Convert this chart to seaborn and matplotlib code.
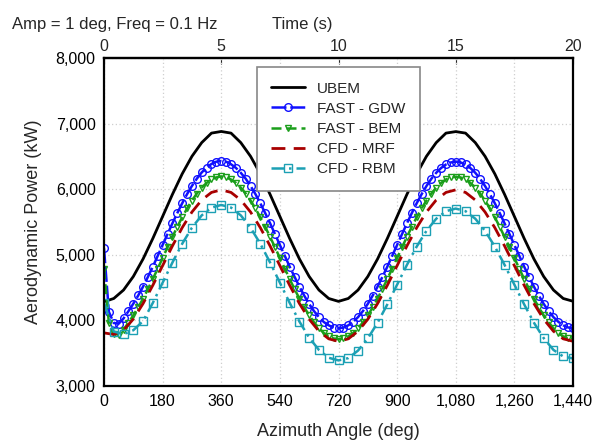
import numpy as np
import pandas as pd
import matplotlib
matplotlib.use("Agg")
import matplotlib.pyplot as plt
from matplotlib.ticker import FuncFormatter
import seaborn as sns

# ---------------- data ----------------
azimuth_15 = np.arange(0, 1441, 15)   # degrees, 97 samples
azimuth_30 = np.arange(0, 1441, 30)   # degrees, 49 samples

ubem = [4285, 4334, 4463, 4669, 4937, 5250, 5585, 5920, 6233, 6501, 6710, 6855, 6880,
        6855, 6710, 6501, 6233, 5920, 5585, 5250, 4937, 4669, 4463, 4334, 4290,
        4334, 4463, 4669, 4937, 5250, 5585, 5920, 6233, 6501, 6710, 6855, 6878,
        6855, 6710, 6501, 6233, 5920, 5585, 5250, 4937, 4669, 4463, 4334, 4292]

fast_gdw = [5100, 4130, 3960, 3950, 4030, 4140, 4255, 4380, 4515, 4665, 4820, 4985, 5150,
            5315, 5480, 5635, 5785, 5925, 6050, 6160, 6255, 6330, 6385, 6420, 6430,
            6420, 6380, 6325, 6250, 6160, 6050, 5925, 5785, 5635, 5480, 5315, 5150,
            4985, 4820, 4665, 4515, 4375, 4250, 4140, 4050, 3975, 3925, 3890, 3880,
            3890, 3925, 3978, 4050, 4142, 4252, 4378, 4515, 4665, 4820, 4985, 5150,
            5315, 5478, 5635, 5785, 5922, 6048, 6158, 6250, 6323, 6377, 6408, 6420,
            6408, 6377, 6322, 6250, 6157, 6048, 5922, 5785, 5635, 5478, 5315, 5150,
            4985, 4820, 4665, 4515, 4378, 4252, 4142, 4050, 3978, 3925, 3892, 3882]

fast_bem = [4780, 3960, 3800, 3780, 3860, 3965, 4077, 4198, 4333, 4478, 4632, 4790, 4952,
            5114, 5272, 5426, 5571, 5706, 5827, 5934, 6024, 6096, 6148, 6180, 6195,
            6179, 6148, 6096, 6024, 5934, 5827, 5706, 5571, 5426, 5272, 5114, 4952,
            4790, 4632, 4478, 4333, 4198, 4077, 3970, 3880, 3808, 3756, 3725, 3714,
            3725, 3756, 3808, 3880, 3970, 4077, 4198, 4333, 4478, 4632, 4790, 4952,
            5114, 5272, 5426, 5571, 5706, 5827, 5934, 6024, 6096, 6148, 6179, 6190,
            6179, 6148, 6096, 6024, 5934, 5827, 5706, 5571, 5426, 5272, 5114, 4952,
            4790, 4632, 4478, 4333, 4198, 4077, 3970, 3880, 3808, 3756, 3725, 3716]

cfd_mrf = [3810, 3785, 3850, 4020, 4257, 4536, 4835, 5134, 5413, 5652, 5835, 5951, 5990,
           5951, 5835, 5652, 5413, 5134, 4835, 4536, 4257, 4018, 3835, 3719, 3680,
           3719, 3835, 4018, 4257, 4536, 4835, 5134, 5413, 5652, 5835, 5951, 5990,
           5951, 5835, 5652, 5413, 5134, 4835, 4536, 4257, 4018, 3835, 3719, 3682]

cfd_rbm = [4270, 3830, 3790, 3850, 3990, 4268, 4575, 4882, 5168, 5413, 5601, 5720, 5760,
           5720, 5601, 5413, 5168, 4882, 4575, 4268, 3982, 3737, 3549, 3430, 3390,
           3425, 3540, 3725, 3965, 4245, 4545, 4845, 5125, 5365, 5550, 5665, 5705,
           5665, 5550, 5365, 5125, 4845, 4545, 4245, 3965, 3730, 3550, 3450, 3420]

x_ticks = [0, 180, 360, 540, 720, 900, 1080, 1260, 1440]
y_ticks = [3000, 4000, 5000, 6000, 7000, 8000]
time_ticks = [0, 5, 10, 15, 20]

# ---------------- styling ----------------
sns.set_style("white")
plt.rcParams["font.family"] = ["Liberation Sans", "DejaVu Sans"]

fig = plt.figure(figsize=(5.92, 4.44), dpi=100)
ax = fig.add_axes([104 / 592, 1 - 386 / 444, 469 / 592, 328 / 444])

df15 = pd.DataFrame({"az": azimuth_15, "gdw": fast_gdw, "bem": fast_bem})
df30 = pd.DataFrame({"az": azimuth_30, "ubem": ubem, "mrf": cfd_mrf, "rbm": cfd_rbm})

sns.lineplot(data=df30, x="az", y="ubem", ax=ax, color="black", lw=2.0,
             label="UBEM", estimator=None, sort=False)
sns.lineplot(data=df15, x="az", y="gdw", ax=ax, color="#1010ff", lw=1.8,
             linestyle=(0, (6, 1.5)), marker="o", markersize=5.5, mfc="none",
             mec="#1010ff", mew=1.0, label="FAST - GDW", estimator=None, sort=False)
sns.lineplot(data=df15, x="az", y="bem", ax=ax, color="#1a9e1a", lw=1.8,
             linestyle=(0, (4, 2)), marker="v", markersize=5, mfc="none",
             mec="#1a9e1a", mew=1.0, label="FAST - BEM", estimator=None, sort=False)
sns.lineplot(data=df30, x="az", y="mrf", ax=ax, color="#a80000", lw=2.0,
             linestyle=(0, (5, 3)), label="CFD - MRF", estimator=None, sort=False)
sns.lineplot(data=df30, x="az", y="rbm", ax=ax, color="#1ca0b4", lw=1.8,
             linestyle=(0, (5, 2, 1, 2)), marker="s", markersize=5.5, mfc="none",
             mec="#1ca0b4", mew=1.0, label="CFD - RBM", estimator=None, sort=False)

ax.set_xlim(0, 1440)
ax.set_ylim(3000, 8000)
ax.set_xticks(x_ticks)
ax.set_yticks(y_ticks)
ax.xaxis.set_major_formatter(FuncFormatter(lambda v, p: f"{v:,.0f}"))
ax.yaxis.set_major_formatter(FuncFormatter(lambda v, p: f"{v:,.0f}"))
ax.tick_params(axis="both", direction="in", length=4, width=1, labelsize=11.5,
               colors="black", pad=6)
ax.grid(True, color="#cfcfcf", linestyle=(0, (1, 2)), linewidth=0.9)
for s in ax.spines.values():
    s.set_color("black")
    s.set_linewidth(1.6)

ax.set_xlabel("Azimuth Angle (deg)", fontsize=13, labelpad=10)
ax.set_ylabel("Aerodynamic Power (kW)", fontsize=13, labelpad=10)

top = ax.secondary_xaxis("top", functions=(lambda d: d / 72.0, lambda t: t * 72.0))
top.set_xticks(time_ticks)
top.tick_params(axis="x", direction="in", length=4, labelsize=11.5, pad=3)
top.spines["top"].set_linewidth(1.6)

fig.text(12 / 592, 1 - 24 / 444, "Amp = 1 deg, Freq = 0.1 Hz", fontsize=12,
         ha="left", va="center")
fig.text(302 / 592, 1 - 24 / 444, "Time (s)", fontsize=12, ha="center", va="center")

leg = ax.legend(loc="upper left", bbox_to_anchor=(0.326, 0.972), fontsize=11,
                frameon=True, fancybox=False, edgecolor="#888888", numpoints=1,
                handlelength=2.2, handletextpad=0.8, labelspacing=0.4,
                borderpad=0.95, borderaxespad=0)
leg.get_frame().set_linewidth(1.2)
leg.get_frame().set_facecolor("white")
leg.get_frame().set_alpha(1)

fig.savefig("out.png", dpi=100)
